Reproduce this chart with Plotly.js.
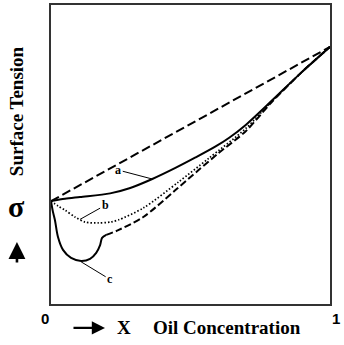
<!DOCTYPE html>
<html>
<head>
<meta charset="utf-8">
<script src="https://cdn.plot.ly/plotly-3.0.1.min.js"></script>
<style>
  html, body { margin: 0; padding: 0; background: #fff; }
  #chart { width: 344px; height: 345px; }
</style>
</head>
<body>
<div id="chart"></div>
<script>
// Ideal (linear) mixing line between pure water and pure oil
const idealX = [0, 1];
const idealY = [0.344, 0.860];

// Curve a: surface tension stays above the minimum
const curveAX = [0, 0.05, 0.104, 0.212, 0.284, 0.363, 0.446, 0.518, 0.590, 0.640, 0.698, 0.788, 0.896, 1];
const curveAY = [0.344, 0.352, 0.358, 0.370, 0.388, 0.418, 0.455, 0.490, 0.527, 0.557, 0.599, 0.677, 0.773, 0.860];

// Curve b: shallow minimum (dotted), joining curve a near the oil end
const curveBX = [0, 0.025, 0.050, 0.086, 0.122, 0.169, 0.212, 0.241, 0.331, 0.457, 0.565, 0.698, 0.788, 0.896, 1];
const curveBY = [0.344, 0.328, 0.314, 0.291, 0.274, 0.271, 0.274, 0.281, 0.321, 0.408, 0.487, 0.587, 0.675, 0.773, 0.860];

// Curve c: deep minimum, then phase-separated branch (dashed)
const curveCX = [0, 0.007, 0.014, 0.025, 0.043, 0.072, 0.108, 0.140, 0.162, 0.176, 0.183, 0.198];
const curveCY = [0.344, 0.308, 0.281, 0.224, 0.181, 0.154, 0.144, 0.151, 0.171, 0.197, 0.221, 0.231];
const curveCTailX = [0.198, 0.241, 0.331, 0.446, 0.529, 0.601, 0.698, 0.788, 0.896, 1];
const curveCTailY = [0.231, 0.247, 0.291, 0.381, 0.448, 0.505, 0.578, 0.672, 0.773, 0.860];

// Axis end labels
const xTickLabels = ['0', '1'];

const serif = '"Liberation Serif", "Times New Roman", Times, serif';
const sans = '"Liberation Sans", Arial, sans-serif';

const traces = [
  { x: idealX, y: idealY, mode: 'lines',
    line: { color: '#000', width: 2, dash: '9px,4px' } },
  { x: curveCTailX, y: curveCTailY, mode: 'lines',
    line: { color: '#000', width: 2, dash: '7px,3px', shape: 'spline', smoothing: 0.8 } },
  { x: curveBX, y: curveBY, mode: 'lines',
    line: { color: '#000', width: 1.7, dash: '1.5px,2px', shape: 'spline', smoothing: 0.8 } },
  { x: curveAX, y: curveAY, mode: 'lines',
    line: { color: '#000', width: 2, shape: 'spline', smoothing: 0.8 } },
  { x: curveCX, y: curveCY, mode: 'lines',
    line: { color: '#000', width: 2, shape: 'spline', smoothing: 0.9 } }
];

const labelFont = { family: serif, size: 12, color: '#000', weight: 'bold' };
const titleFont = { family: serif, size: 19, color: '#000', weight: 'bold' };

const annotations = [
  // curve labels with leader lines
  { x: curveAX[5], y: curveAY[5], ax: 0.241, ay: 0.448, axref: 'x', ayref: 'y',
    text: 'a', font: labelFont, showarrow: true, arrowhead: 0, arrowwidth: 1, arrowcolor: '#000' },
  { x: curveBX[3] + 0.018, y: 0.283, ax: 0.194, ay: 0.330, axref: 'x', ayref: 'y',
    text: 'b', font: labelFont, showarrow: true, arrowhead: 0, arrowwidth: 1, arrowcolor: '#000' },
  { x: curveCX[6], y: curveCY[6] - 0.003, ax: 0.212, ay: 0.082, axref: 'x', ayref: 'y',
    text: 'c', font: labelFont, showarrow: true, arrowhead: 0, arrowwidth: 1, arrowcolor: '#000' },

  // axis end labels
  { xref: 'paper', yref: 'paper', x: 0, y: 0, xshift: -6, yshift: -4,
    xanchor: 'center', yanchor: 'top', showarrow: false, text: xTickLabels[0],
    font: { family: sans, size: 15, color: '#000', weight: 'bold' } },
  { xref: 'paper', yref: 'paper', x: 1, y: 0, xshift: 6, yshift: -4,
    xanchor: 'center', yanchor: 'top', showarrow: false, text: xTickLabels[1],
    font: { family: sans, size: 15, color: '#000', weight: 'bold' } },

  // x-axis title: arrow, X, Oil Concentration
  { xref: 'paper', yref: 'paper', x: 0.1935, y: -0.080, ax: -33, ay: 0,
    text: '', showarrow: true, arrowhead: 2, arrowwidth: 2.2, arrowsize: 1.2, arrowcolor: '#000' },
  { xref: 'paper', yref: 'paper', x: 0.2616, y: -0.080, xanchor: 'center', yanchor: 'middle',
    showarrow: false, text: 'X', font: titleFont },
  { xref: 'paper', yref: 'paper', x: 0.6326, y: -0.080, xanchor: 'center', yanchor: 'middle',
    showarrow: false, text: 'Oil Concentration', font: titleFont },

  // y-axis title: Surface Tension, sigma, up arrow
  { xref: 'paper', yref: 'paper', x: -0.1254, y: 0.645, xanchor: 'center', yanchor: 'middle',
    showarrow: false, text: 'Surface Tension', textangle: -90, font: titleFont },
  { xref: 'paper', yref: 'paper', x: -0.122, y: 0.325, xanchor: 'center', yanchor: 'middle',
    showarrow: false, text: 'σ', font: { family: serif, size: 30, color: '#000', weight: 'bold' } },
  { xref: 'paper', yref: 'paper', x: -0.122, y: 0.207, ax: 0, ay: 22,
    text: '', showarrow: true, arrowhead: 2, arrowwidth: 2.6, arrowsize: 1.3, arrowcolor: '#000' }
];

const layout = {
  width: 344, height: 345,
  margin: { l: 51, r: 14, t: 5, b: 41 },
  paper_bgcolor: '#fff', plot_bgcolor: '#fff',
  showlegend: false,
  xaxis: { range: [0, 1], showgrid: false, zeroline: false, showticklabels: false, ticks: '',
           showline: true, mirror: true, linecolor: '#333', linewidth: 2, fixedrange: true },
  yaxis: { range: [0, 1], showgrid: false, zeroline: false, showticklabels: false, ticks: '',
           showline: true, mirror: true, linecolor: '#333', linewidth: 2, fixedrange: true },
  annotations: annotations
};

Plotly.newPlot('chart', traces, layout, { staticPlot: true, displayModeBar: false });
</script>
</body>
</html>
